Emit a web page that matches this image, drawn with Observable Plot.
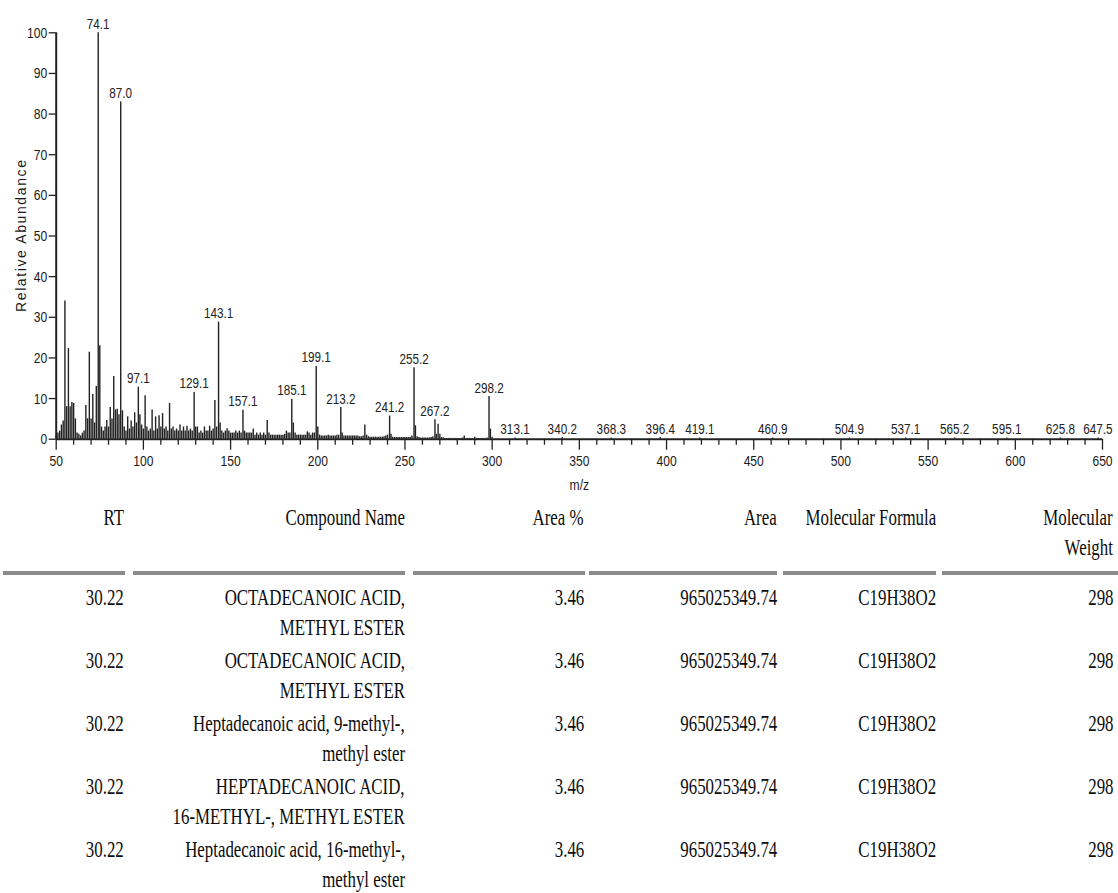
<!DOCTYPE html>
<html>
<head>
<meta charset="utf-8">
<script src="https://cdn.jsdelivr.net/npm/d3@7"></script>
<script src="https://cdn.jsdelivr.net/npm/@observablehq/plot@0.6"></script>
<style>
  html, body { margin: 0; padding: 0; background: #fff; }
  #wrap { position: relative; width: 1118px; height: 893px; overflow: hidden; }
  #chart svg { display: block; }
  .cell { position: absolute; white-space: nowrap; font-family: 'Liberation Serif', 'Times New Roman', serif;
          font-size: 23px; line-height: 30px; color: #0d0d0d; transform: scaleX(0.733); transform-origin: 100% 50%; text-align: right; }
  .rule { position: absolute; height: 4px; background: #8a8a8a; }
</style>
</head>
<body>
<div id="wrap">
  <div id="chart"></div>
  <div id="table"></div>
</div>
<script>
// ---------- spectrum data (m/z, relative abundance) ----------
const mz = [50,51,52,53,54,55,56,57,58,59,60,61,62,63,64,65,66,67,68,69,70,71,72,73,74.1,75,76,77,78,79,
80,81,82,83,84,85,86,87.0,88,89,90,91,92,93,94,95,96,97.1,98,99,100,101,102,103,104,105,106,107,108,109,
110,111,112,113,114,115,116,117,118,119,120,121,122,123,124,125,126,127,128,129.1,130,131,132,133,134,135,136,137,138,139,
140,141,142,143.1,144,145,146,147,148,149,150,151,152,153,154,155,156,157.1,158,159,160,161,162,163,164,165,166,167,168,169,
170,171,172,173,174,175,176,177,178,179,180,181,182,183,184,185.1,186,187,188,189,190,191,192,193,194,195,196,197,198,199.1,
200,201,202,203,204,205,206,207,208,209,210,211,212,213.2,214,215,216,217,218,219,220,221,222,223,224,225,226,227,228,229,
230,231,232,233,234,235,236,237,238,239,240,241.2,242,243,244,245,246,247,248,249,250,251,252,253,254,255.2,256,257,258,259,
260,261,262,263,264,265,266,267.2,268,269,270,271,272,273,274,275,276,277,278,279,280,281,282,283,284,285,286,287,288,289,
290,291,292,293,294,295,296,297,298.2,299,300,
313.1,340.2,368.3,396.4,419.1,460.9,504.9,537.1,565.2,595.1,625.8,647.5];
const abundance = [1.0,1.5,2.0,3.5,4.5,34,8,22.3,8,9,8.8,5,1.5,1.2,0.8,1.5,2,8.3,5,21.4,5,11,4,13,100,23,3,2,3,4.6,
3,7.8,5,15.4,7.2,7.4,6,83,7,3,2,5.5,2.5,4.5,3,6.5,4,12.8,6,3.5,2.5,10.7,3,2,2.5,7.2,2,5.5,2.5,5.8,
3,6.3,2.5,3,2,8.8,2.5,3,2,2.5,2,3.5,2,3,2,3.2,2,2.5,2,11.5,3,3,1.5,2,1.5,3,2,2,3.2,2,
2.5,9.5,3,28.8,4,2,1.5,2,2.6,2,1.5,1.5,1.5,2,1.5,2,1.5,7.1,2,1.5,1.5,1.5,1.5,2.5,1,1.5,1,1.5,1,1.5,
1,4.6,1.5,1,1,1,1,1,1,1,1,1.2,2,1.5,1.5,9.8,4,1.5,1,1,1,1,1,1,1.8,1.5,1,1.5,1.5,17.9,
3,1,0.8,0.8,0.8,0.8,1,0.8,0.8,0.8,0.8,1,1,7.8,1.5,0.8,0.8,0.8,0.8,0.8,0.8,0.8,0.8,0.8,0.6,0.6,0.8,3.5,1,0.6,
0.5,0.5,0.5,0.5,0.5,0.5,0.5,0.5,0.6,0.8,1.0,5.7,1.2,0.5,0.4,0.4,0.4,0.4,0.4,0.4,0.4,0.4,0.4,0.5,0.8,17.6,3.3,0.6,0.4,0.3,
0.3,0.3,0.3,0.3,0.3,0.4,0.6,4.8,1.2,3.7,1.2,0.4,0.3,0.2,0.2,0.2,0.2,0.2,0.2,0.2,0.2,0.2,0.2,0.3,0.8,0.2,0.2,0.2,0.2,0.2,
0.5,0.2,0.2,0.2,0.2,0.2,0.2,0.3,10.5,2.5,0.5,
0.3,0.4,0.3,0.4,0.3,0.3,0.3,0.3,0.3,0.3,0.3,0.3];

// labelled peaks
const labelMz  = [74.1,87.0,97.1,129.1,143.1,157.1,185.1,199.1,213.2,241.2,255.2,267.2,298.2,313.1,340.2,368.3,396.4,419.1,460.9,504.9,537.1,565.2,595.1,625.8,647.5];
const labelAb  = [100,83,12.8,11.5,28.8,7.1,9.8,17.9,7.8,5.7,17.6,4.8,10.5,0.3,0.4,0.3,0.4,0.3,0.3,0.3,0.3,0.3,0.3,0.3,0.3];
const labelTxt = ["74.1","87.0","97.1","129.1","143.1","157.1","185.1","199.1","213.2","241.2","255.2","267.2","298.2","313.1","340.2","368.3","396.4","419.1","460.9","504.9","537.1","565.2","595.1","625.8","647.5"];

// axis ticks
const xMajor = [50,100,150,200,250,300,350,400,450,500,550,600,650];
const xMinor = [60,70,80,90,110,120,130,140,160,170,180,190,210,220,230,240,260,270,280,290,310,320,330,340,360,370,380,390,410,420,430,440,460,470,480,490,510,520,530,540,560,570,580,590,610,620,630,640];
const yTicks = [0,10,20,30,40,50,60,70,80,90,100];

// ---------- table data ----------
const headers = [["RT"], ["Compound Name"], ["Area %"], ["Area"], ["Molecular Formula"], ["Molecular", "Weight"]];
const rt = ["30.22","30.22","30.22","30.22","30.22"];
const compound = [
  ["OCTADECANOIC ACID,", "METHYL ESTER"],
  ["OCTADECANOIC ACID,", "METHYL ESTER"],
  ["Heptadecanoic acid, 9-methyl-,", "methyl ester"],
  ["HEPTADECANOIC ACID,", "16-METHYL-, METHYL ESTER"],
  ["Heptadecanoic acid, 16-methyl-,", "methyl ester"]
];
const areaPct = ["3.46","3.46","3.46","3.46","3.46"];
const area = ["965025349.74","965025349.74","965025349.74","965025349.74","965025349.74"];
const formula = ["C19H38O2","C19H38O2","C19H38O2","C19H38O2","C19H38O2"];
const molWeight = ["298","298","298","298","298"];

// ---------- chart ----------
const FONT = "'Liberation Sans', Arial, sans-serif";
const spectrum = mz.map((m, i) => ({m, a: abundance[i]}));
const labels = labelMz.map((m, i) => ({m, a: labelAb[i], t: labelTxt[i]}));
const innerLabels = labels.slice(0, -1);
const edgeLabel = labels.slice(-1);

const chart = Plot.plot({
  width: 1118,
  height: 495,
  marginLeft: 55.7,
  marginRight: 16,
  marginTop: 32.3,
  marginBottom: 56.3,
  x: {domain: [50, 650]},
  y: {domain: [0, 100]},
  style: {fontFamily: FONT, fontSize: "15px", color: "#1a1a1a", background: "white", overflow: "visible"},
  marks: [
    Plot.ruleX(spectrum, {x: "m", y1: 0, y2: "a", stroke: "#222", strokeWidth: 1.4}),
    Plot.axisX({ticks: xMinor, tickSize: 6, tickFormat: () => "", label: null, stroke: "#222", strokeWidth: 1.3}),
    Plot.axisX({ticks: xMajor, tickSize: 11, tickPadding: 5, label: "m/z", labelAnchor: "center", labelArrow: "none",
                labelOffset: 51, stroke: "#222", strokeWidth: 1.3, fontSize: 15.5}),
    Plot.axisY({ticks: yTicks, tickSize: 7, tickPadding: 2, label: "Relative Abundance", labelAnchor: "center",
                labelArrow: "none", labelOffset: 40, stroke: "#222", strokeWidth: 1.3, fontSize: 15.5}),
    Plot.ruleY([0], {stroke: "#222", strokeWidth: 2}),
    Plot.ruleX([50], {y1: 0, y2: 100, stroke: "#222", strokeWidth: 2}),
    Plot.text(innerLabels, {x: "m", y: "a", text: "t", lineAnchor: "bottom", dy: -4, fontSize: 15, fill: "#222"}),
    Plot.text(edgeLabel, {x: "m", y: "a", text: "t", lineAnchor: "bottom", textAnchor: "end", dx: 14.5, dy: -4, fontSize: 15, fill: "#222"})
  ]
});
document.getElementById("chart").appendChild(chart);

// condensed look of the original instrument fonts: squeeze glyphs horizontally
const yl = chart.querySelector('g[aria-label="y-axis label"] text');
chart.querySelectorAll("text").forEach(t => {
  if (t === yl) return;
  const len = t.getComputedTextLength();
  if (len > 0) { t.setAttribute("textLength", (len * 0.78).toFixed(1)); t.setAttribute("lengthAdjust", "spacingAndGlyphs"); }
});
if (yl) { yl.setAttribute("font-size", "14"); yl.setAttribute("textLength", "152"); yl.setAttribute("lengthAdjust", "spacing"); }

// ---------- table ----------
const colRight = [124, 405, 584, 777, 936, 1113];
const ruleSpan = [[3,125],[133,405],[413,585],[589,777],[783,936],[942,1118]];
const headTop = 503, lineH = 30, ruleY = 571, rowTop = 583, rowStep = 63;
const tbl = document.getElementById("table");
function cell(text, right, top) {
  const d = document.createElement("div");
  d.className = "cell";
  d.textContent = text;
  d.style.right = (1118 - right) + "px";
  d.style.top = top + "px";
  tbl.appendChild(d);
}
headers.forEach((lines, c) => lines.forEach((t, k) => cell(t, colRight[c], headTop + k * lineH)));
ruleSpan.forEach(([a, b]) => {
  const r = document.createElement("div");
  r.className = "rule";
  r.style.left = a + "px"; r.style.width = (b - a) + "px"; r.style.top = ruleY + "px";
  tbl.appendChild(r);
});
rt.forEach((v, i) => {
  const top = rowTop + i * rowStep;
  cell(v, colRight[0], top);
  compound[i].forEach((t, k) => cell(t, colRight[1], top + k * lineH));
  cell(areaPct[i], colRight[2], top);
  cell(area[i], colRight[3], top);
  cell(formula[i], colRight[4], top);
  cell(molWeight[i], colRight[5], top);
});
</script>
</body>
</html>
